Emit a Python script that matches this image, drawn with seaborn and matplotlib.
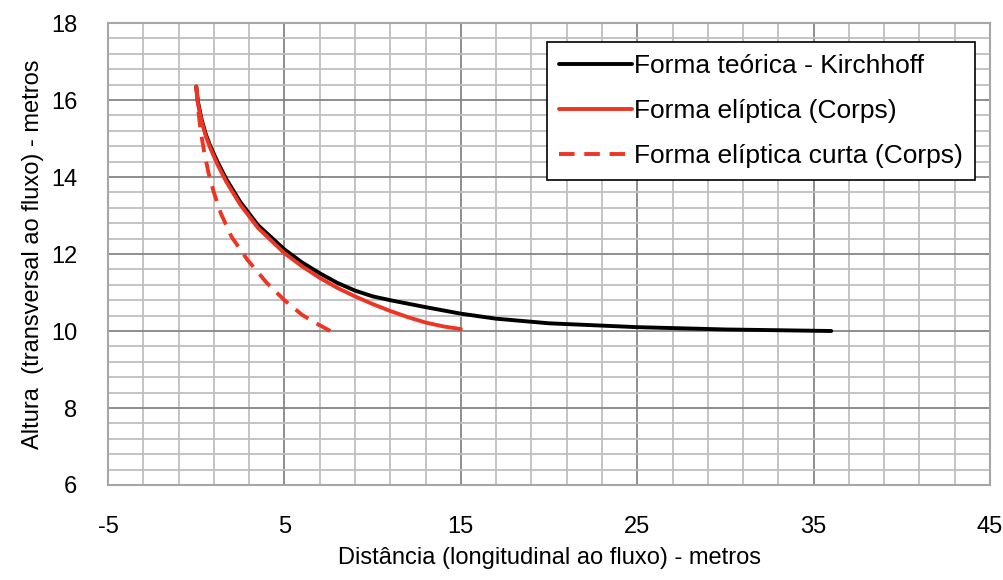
import matplotlib
matplotlib.use("Agg")
import matplotlib.pyplot as plt
from matplotlib.ticker import MultipleLocator
import seaborn as sns
import pandas as pd

# Kirchhoff theoretical shape
kirch_x = [0, 0.1, 0.3, 0.55, 0.8, 1.2, 1.7, 2.5, 3.5, 5, 6, 7, 8, 9, 10, 11, 13, 15, 17, 20, 25, 30, 36]
kirch_y = [16.35, 15.95, 15.5, 15.1, 14.8, 14.4, 13.95, 13.35, 12.75, 12.12, 11.78, 11.5, 11.25, 11.05, 10.9, 10.8, 10.62, 10.45, 10.32, 10.2, 10.1, 10.04, 10.0]

# elliptical shape (Corps)
elip_x = [0, 0.1, 0.3, 0.55, 0.8, 1.2, 1.7, 2.5, 3.5, 5, 6, 7, 8, 9, 10, 11, 12, 13, 14, 15]
elip_y = [16.35, 15.9, 15.45, 15.05, 14.75, 14.33, 13.88, 13.28, 12.68, 12.02, 11.68, 11.38, 11.12, 10.9, 10.7, 10.52, 10.36, 10.22, 10.12, 10.05]

# short elliptical shape (Corps)
curta_x = [0, 0.1, 0.25, 0.45, 0.7, 1.0, 1.4, 2.0, 2.9, 4.0, 5.0, 6.0, 6.8, 7.6]
curta_y = [16.35, 15.8, 15.2, 14.65, 14.1, 13.6, 13.05, 12.45, 11.85, 11.25, 10.8, 10.42, 10.2, 10.0]

labels = ["Forma teórica - Kirchhoff", "Forma elíptica (Corps)", "Forma elíptica curta (Corps)"]

df = pd.concat([
    pd.DataFrame({"x": kirch_x, "y": kirch_y, "serie": labels[0]}),
    pd.DataFrame({"x": elip_x, "y": elip_y, "serie": labels[1]}),
    pd.DataFrame({"x": curta_x, "y": curta_y, "serie": labels[2]}),
])

sns.set_style("white")
plt.rcParams['font.family'] = ['Liberation Sans', 'DejaVu Sans']
plt.rcParams['text.color'] = 'black'
plt.rcParams['axes.labelcolor'] = 'black'
plt.rcParams['xtick.color'] = 'black'
plt.rcParams['ytick.color'] = 'black'
plt.rcParams['axes.unicode_minus'] = False

fig = plt.figure(figsize=(10.04, 5.8), dpi=100)
ax = fig.add_axes([0.1076, 0.1638, 0.8785, 0.7965])

sns.lineplot(data=df, x="x", y="y", hue="serie", style="serie", sort=False,
             palette=["#000000", "#EE3524", "#EE3524"],
             dashes=[(None, None), (None, None), (4, 2.5)],
             linewidth=2.8, ax=ax, legend=True)

ax.set_xlim(-5, 45)
ax.set_ylim(6, 18)
ax.xaxis.set_major_locator(MultipleLocator(10, offset=5))
ax.xaxis.set_minor_locator(MultipleLocator(2, offset=1))
ax.yaxis.set_major_locator(MultipleLocator(2))
ax.yaxis.set_minor_locator(MultipleLocator(0.4))
ax.grid(which="major", color="#868686", linewidth=1.3)
ax.grid(which="minor", color="#BFBFBF", linewidth=1.3)
ax.set_axisbelow(True)
for s in ax.spines.values():
    s.set_color("#A6A6A6")
    s.set_linewidth(1.5)
ax.tick_params(which="both", length=0, labelsize=17)
ax.tick_params(axis="x", pad=22)
ax.tick_params(axis="y", pad=22)

ax.set_xlabel("Distância (longitudinal ao fluxo) - metros", fontsize=17, labelpad=7)
ax.set_ylabel("Altura  (transversal ao fluxo) - metros", fontsize=17, labelpad=5)

leg = ax.legend(loc="upper right", bbox_to_anchor=(0.983, 0.959), fontsize=19,
                handlelength=2.75, handletextpad=0.1, labelspacing=0.8,
                fancybox=False, framealpha=1, edgecolor="black", borderpad=0.45,
                borderaxespad=0)
leg.get_frame().set_linewidth(1.2)

fig.savefig("out.png", dpi=100)
